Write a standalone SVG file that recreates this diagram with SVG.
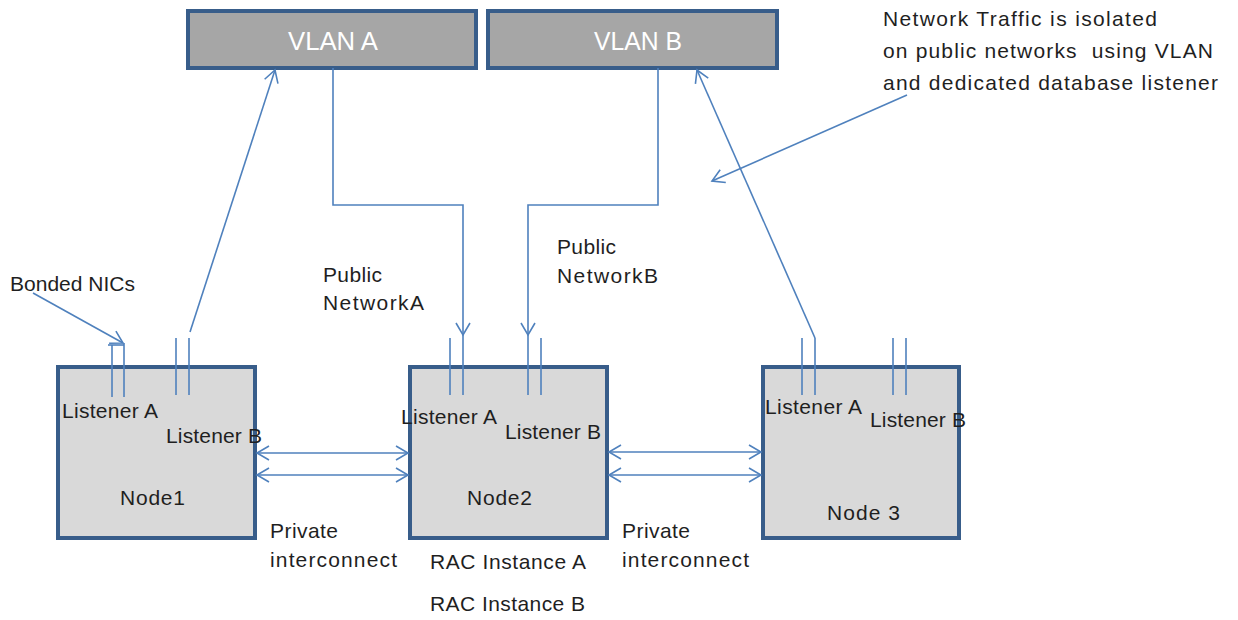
<svg xmlns="http://www.w3.org/2000/svg" width="1238" height="620" viewBox="0 0 1238 620">
<style>
text{font-family:"Liberation Sans",Arial,sans-serif;fill:#1f1f1f;font-size:21px}
.vlan rect{fill:#a6a6a6;stroke:#385d8a;stroke-width:4}
.vlan text{fill:#ffffff;font-size:25px;text-anchor:middle}
.node rect{fill:#d9d9d9;stroke:#385d8a;stroke-width:4}
.ln{stroke:#4f81bd;stroke-width:1.6;fill:none}
</style>
<defs>
<marker id="ah" markerUnits="userSpaceOnUse" markerWidth="16" markerHeight="16" refX="13" refY="8" orient="auto-start-reverse">
<path d="M1,1 L13,8 L1,15" fill="none" stroke="#4f81bd" stroke-width="1.6"/>
</marker>
</defs>
<rect width="1238" height="620" fill="#ffffff"/>
<g id="vlanA" class="vlan"><rect x="188" y="11" width="288" height="57"/><text x="333" y="50" textLength="90" lengthAdjust="spacingAndGlyphs">VLAN A</text></g>
<g id="vlanB" class="vlan"><rect x="488" y="11" width="289" height="57"/><text x="638" y="50" textLength="88" lengthAdjust="spacingAndGlyphs">VLAN B</text></g>
<g id="node1" class="node"><rect x="58" y="367" width="197" height="171"/>
<text x="62" y="418" textLength="96">Listener A</text>
<text x="166" y="443" textLength="96">Listener B</text>
<text x="120" y="505" textLength="65">Node1</text></g>
<g id="node2" class="node"><rect x="410" y="367" width="197" height="171"/>
<text x="401" y="424" textLength="96">Listener A</text>
<text x="505" y="439" textLength="96">Listener B</text>
<text x="467" y="505" textLength="65">Node2</text></g>
<g id="node3" class="node"><rect x="763" y="367" width="196" height="171"/>
<text x="765" y="414" textLength="97">Listener A</text>
<text x="870" y="427" textLength="96">Listener B</text>
<text x="827" y="520" textLength="73">Node 3</text></g>
<g id="connectors">
<line class="ln" x1="112" y1="345" x2="112" y2="397"/>
<line class="ln" x1="124" y1="343" x2="124" y2="397"/>
<line class="ln" x1="108" y1="345" x2="124" y2="345"/>
<line class="ln" x1="176" y1="338" x2="176" y2="395"/>
<line class="ln" x1="189" y1="338" x2="189" y2="395"/>
<line class="ln" x1="450" y1="338" x2="450" y2="395"/>
<line class="ln" x1="463" y1="335" x2="463" y2="395"/>
<line class="ln" x1="528" y1="335" x2="528" y2="395"/>
<line class="ln" x1="541" y1="338" x2="541" y2="395"/>
<line class="ln" x1="802" y1="338" x2="802" y2="395"/>
<line class="ln" x1="815" y1="338" x2="815" y2="395"/>
<line class="ln" x1="893" y1="338" x2="893" y2="395"/>
<line class="ln" x1="906" y1="338" x2="906" y2="395"/>
<path class="ln" d="M33,293 L123,343" marker-end="url(#ah)"/>
<path class="ln" d="M190,332 L275,70" marker-end="url(#ah)"/>
<path class="ln" d="M333,68 V205 H463 V335" marker-end="url(#ah)"/>
<path class="ln" d="M658,68 V205 H528 V335" marker-end="url(#ah)"/>
<path class="ln" d="M815,338 L697,70" marker-end="url(#ah)"/>
<path class="ln" d="M907,95 L712,181" marker-end="url(#ah)"/>
<path class="ln" d="M257,453 H408" marker-start="url(#ah)" marker-end="url(#ah)"/>
<path class="ln" d="M257,475 H408" marker-start="url(#ah)" marker-end="url(#ah)"/>
<path class="ln" d="M609,452 H761" marker-start="url(#ah)" marker-end="url(#ah)"/>
<path class="ln" d="M609,475 H761" marker-start="url(#ah)" marker-end="url(#ah)"/>
</g>
<g id="labels">
<text x="10" y="291" textLength="125">Bonded NICs</text>
<text x="323" y="282" textLength="59">Public</text>
<text x="323" y="310" textLength="101">NetworkA</text>
<text x="557" y="254" textLength="59">Public</text>
<text x="557" y="283" textLength="101">NetworkB</text>
<text x="270" y="538" textLength="68">Private</text>
<text x="270" y="567" textLength="127">interconnect</text>
<text x="622" y="538" textLength="68">Private</text>
<text x="622" y="567" textLength="127">interconnect</text>
<text x="430" y="569" textLength="156">RAC Instance A</text>
<text x="430" y="611" textLength="155">RAC Instance B</text>
<text x="883" y="26" textLength="274">Network Traffic is isolated</text>
<text x="883" y="58" textLength="330" xml:space="preserve">on public networks  using VLAN</text>
<text x="883" y="90" textLength="335">and dedicated database listener</text>
</g>
</svg>
